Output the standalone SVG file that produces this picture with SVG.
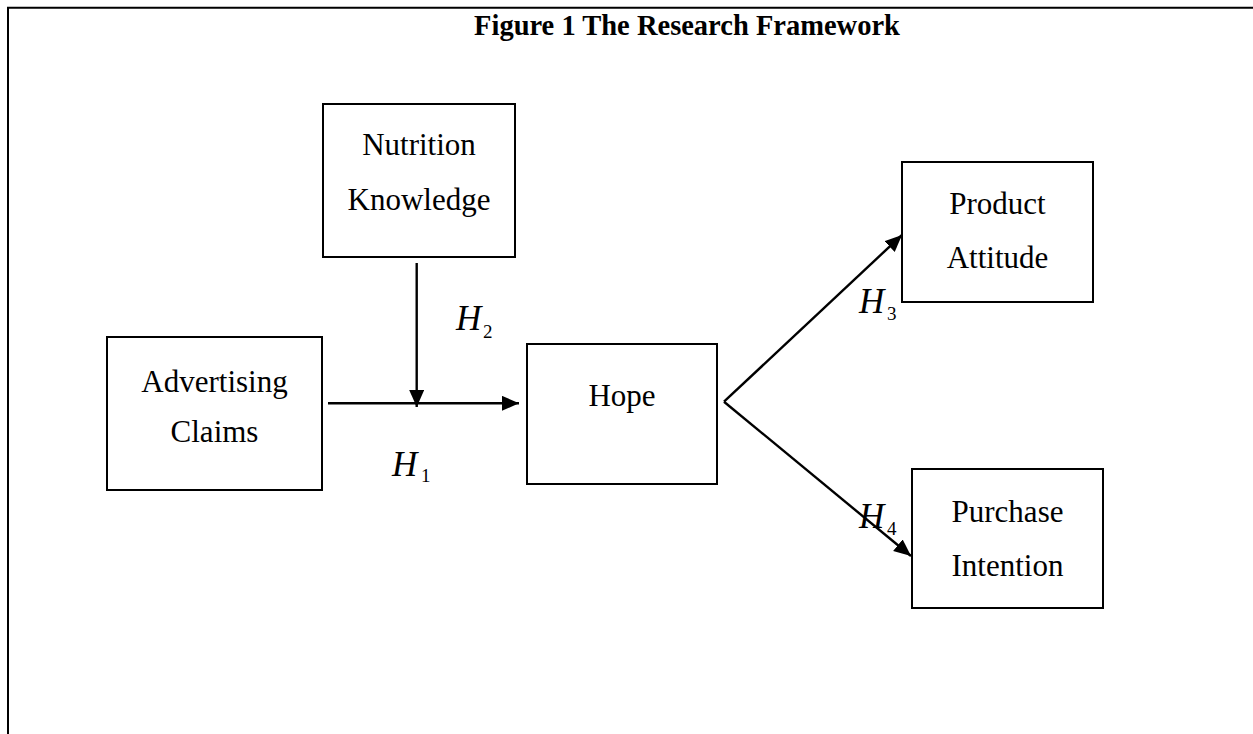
<svg xmlns="http://www.w3.org/2000/svg" width="1253" height="734" viewBox="0 0 1253 734">
<style>
.box{fill:#fff;stroke:#000;stroke-width:2}
.lbl{font-family:"Liberation Serif","Times New Roman",serif;font-size:31px;fill:#000;text-anchor:middle}
.hyp{font-family:"Liberation Serif","Times New Roman",serif;font-style:italic;font-size:35px;fill:#000}
.sub{font-family:"Liberation Serif","Times New Roman",serif;font-size:19px;fill:#000}
.edge{fill:none;stroke:#000;stroke-width:2.4}
</style>
<defs>
<marker id="ah" markerUnits="userSpaceOnUse" markerWidth="19" markerHeight="17" refX="17" refY="7.5" orient="auto">
<path d="M0,0 L17,7.5 L0,15 Z" fill="#000"/>
</marker>
</defs>
<rect width="1253" height="734" fill="#fff"/>
<path d="M8,734 V7.7 H1253" fill="none" stroke="#000" stroke-width="2"/>
<text x="687" y="35" style="font-family:'Liberation Serif','Times New Roman',serif;font-weight:bold;font-size:28.5px;text-anchor:middle">Figure 1 The Research Framework</text>
<g id="connectors">
<line class="edge" x1="328" y1="403.3" x2="519" y2="403.3" marker-end="url(#ah)"/>
<line class="edge" x1="416.7" y1="263" x2="416.7" y2="407" marker-end="url(#ah)"/>
<line class="edge" x1="724" y1="401.7" x2="902" y2="235" marker-end="url(#ah)"/>
<line class="edge" x1="724" y1="401.7" x2="911" y2="556" marker-end="url(#ah)"/>
</g>
<g id="advertising-claims">
<rect class="box" x="107" y="337" width="215" height="153"/>
<text class="lbl" x="214.5" y="392">Advertising</text>
<text class="lbl" x="214.5" y="442">Claims</text>
</g>
<g id="nutrition-knowledge">
<rect class="box" x="323" y="104" width="192" height="153"/>
<text class="lbl" x="419" y="155">Nutrition</text>
<text class="lbl" x="419" y="210">Knowledge</text>
</g>
<g id="hope">
<rect class="box" x="527" y="344" width="190" height="140"/>
<text class="lbl" x="622" y="406">Hope</text>
</g>
<g id="product-attitude">
<rect class="box" x="902" y="162" width="191" height="140"/>
<text class="lbl" x="997.5" y="214">Product</text>
<text class="lbl" x="997.5" y="268">Attitude</text>
</g>
<g id="purchase-intention">
<rect class="box" x="912" y="469" width="191" height="139"/>
<text class="lbl" x="1007.5" y="522">Purchase</text>
<text class="lbl" x="1007.5" y="576">Intention</text>
</g>
<g id="labels">
<text class="hyp" x="392" y="476">H</text><text class="sub" x="421" y="482">1</text>
<text class="hyp" x="456" y="330">H</text><text class="sub" x="483" y="338">2</text>
<text class="hyp" x="859" y="313">H</text><text class="sub" x="887" y="320">3</text>
<text class="hyp" x="859" y="528">H</text><text class="sub" x="887" y="535">4</text>
</g>
</svg>
